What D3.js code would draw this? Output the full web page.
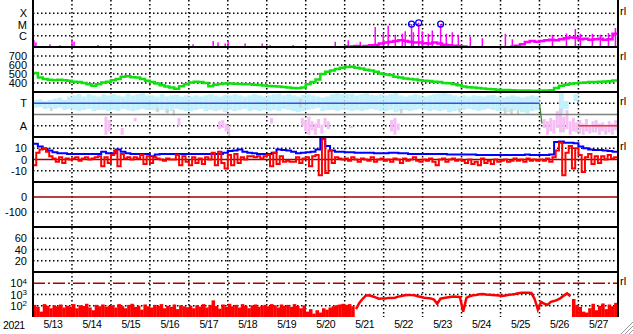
<!DOCTYPE html>
<html>
<head>
<meta charset="utf-8">
<script src="https://cdn.jsdelivr.net/npm/d3@7"></script>
<style>
body { margin: 0; background: #fff; }
svg { display: block; }
</style>
</head>
<body>
<script>
const W = 633, H = 334;
const FONT = "'Liberation Sans', Arial, sans-serif";

const days = ["5/13", "5/14", "5/15", "5/16", "5/17", "5/18", "5/19", "5/20",
    "5/21", "5/22", "5/23", "5/24", "5/25", "5/26", "5/27"];

// x-ray background, 3 hour bins from 5/13 00UT
const xrayBg = [
    6e-8, 6e-8, 6e-8, 6e-8, 6e-8, 6e-8, 6e-8, 6e-8,
    6e-8, 6e-8, 6e-8, 6e-8, 6e-8, 6e-8, 6e-8, 6e-8,
    6e-8, 6e-8, 6e-8, 6e-8, 6e-8, 6e-8, 6e-8, 6e-8,
    6e-8, 6e-8, 6e-8, 6e-8, 6e-8, 6e-8, 6e-8, 6e-8,
    6e-8, 6e-8, 6e-8, 6e-8, 6e-8, 6e-8, 6e-8, 6e-8,
    6e-8, 6e-8, 6e-8, 6e-8, 6e-8, 6e-8, 6e-8, 6e-8,
    6e-8, 6e-8, 6e-8, 6e-8, 6e-8, 6e-8, 6e-8, 6e-8,
    6e-8, 6e-8, 6e-8, 6e-8, 6e-8, 6e-8, 6e-8, 6e-8,
    1.1e-7, 1.1e-7, 1.2e-7, 1.1e-7, 1.2e-7, 1.4e-7, 1.5e-7, 2e-7,
    2.5e-7, 3e-7, 3.5e-7, 4e-7, 3.5e-7, 3e-7, 2.5e-7, 2.5e-7,
    2.2e-7, 2e-7, 2.5e-7, 2e-7, 1.6e-7, 1.4e-7, 1.3e-7, 1.2e-7,
    1.1e-7, 1.05e-7, 9e-8, 9e-8, 8e-8, 9e-8, 8e-8, 9e-8,
    8e-8, 9e-8, 1.1e-7, 1.3e-7, 1.8e-7, 2.8e-7, 3.5e-7, 3e-7,
    3.5e-7, 4e-7, 4.5e-7, 4e-7, 5e-7, 6e-7, 7e-7, 6.5e-7,
    5e-7, 5.5e-7, 4.5e-7, 5e-7, 5.5e-7, 4.5e-7, 5e-7, 1.5e-6
];
// x-ray spikes: [hour, flux]
const xrayPeaks = [
    [0.6, 4e-7], [1.8, 2.5e-7], [10.5, 1.8e-7], [16.6, 1.4e-7], [24, 5e-7], [25.3, 3e-7],
    [40, 1.5e-7], [98.6, 1.8e-7], [111, 3.5e-7], [114, 2.5e-7], [118.4, 2e-7], [120.2, 3.5e-7],
    [130.7, 2e-7], [141.2, 2e-7], [146.1, 1.5e-7], [160.3, 1.5e-7], [186.2, 3e-7], [194.2, 4e-7],
    [201.6, 3e-7], [210.8, 6e-6], [215.8, 1.7e-6], [218.8, 7.8e-6], [223.2, 1.2e-6], [227.5, 1.5e-6],
    [229.3, 2.5e-6], [234.3, 2e-6], [239.8, 2.5e-6], [243.5, 1.5e-6], [246, 3e-6], [254.6, 1.5e-6],
    [258.3, 2e-6], [262, 1.2e-6], [269.4, 8e-7], [276.8, 6e-7], [291, 1.5e-6], [295.3, 5e-7],
    [320, 1.2e-6], [328.6, 1.6e-6], [334.1, 4e-6], [337.2, 1.5e-6], [344.6, 1.5e-6], [349.5, 1.2e-6],
    [354.5, 1.8e-6], [358.8, 5e-6]
];
// M flares: [hour, peak]
const flares = [[233.2, 1.1e-5], [237.6, 1.4e-5], [251.1, 1.1e-5]];

// solar wind speed, 3 hour bins
const speed = [
    510, 460, 445, 435, 430, 435, 430, 425,
    415, 410, 400, 385, 370, 385, 405, 415,
    430, 445, 470, 475, 465, 460, 445, 425,
    410, 395, 375, 360, 350, 335, 365, 385,
    405, 415, 410, 400, 365, 380, 390, 395,
    395, 392, 390, 385, 385, 380, 378, 372,
    368, 365, 360, 355, 350, 345, 342, 350,
    385, 410, 440, 500, 525, 540, 555, 570,
    578, 580, 570, 560, 548, 540, 525, 505,
    495, 488, 470, 460, 450, 445, 440, 430,
    425, 422, 415, 410, 400, 396, 385, 375,
    360, 352, 350, 345, 338, 333, 330, 326,
    322, 322, 320, 318, 318, 316, 315, 315,
    316, 318, 320, 345, 370, 380, 392, 398,
    402, 405, 410, 412, 415, 418, 420, 428
];

// IMF direction (T = +1, A = -1), toward-side band per 3 hour bin
const tHi = [
    1.3, 1.35, 1.2, 1.3, 1.4, 1.5, 1.3, 1.6,
    1.7, 1.8, 1.6, 1.8, 1.7, 1.6, 1.8, 1.7,
    1.8, 1.7, 1.6, 1.85, 1.7, 1.8, 1.9, 1.7,
    1.7, 1.6, 1.8, 1.6, 1.7, 1.75, 1.6, 1.7,
    1.6, 1.7, 1.6, 1.7, 1.8, 1.7, 1.6, 1.75,
    1.7, 1.8, 1.7, 1.6, 1.7, 1.8, 1.7, 1.6,
    1.7, 1.8, 1.85, 1.7, 1.8, 1.7, 1.6, 1.75,
    1.8, 1.7, 1.6, 1.5, 1.6, 1.8, 1.9, 1.8,
    1.8, 1.85, 1.7, 1.8, 1.9, 1.75, 1.7, 1.8,
    1.7, 1.8, 1.9, 1.7, 1.6, 1.7, 1.8, 1.7,
    1.6, 1.7, 1.8, 1.85, 1.9, 1.8, 1.7, 1.6,
    1.7, 1.6, 1.7, 1.65, 1.6, 1.7, 1.75, 1.6,
    1.5, 1.6, 1.7, 1.6, 1.5, 1.6, 1.7, 1.6,
    null, null, null, null, 1.9, 1.2, null, 1.8,
    null, null, null, null, null, null, null, null
];
const tLo = [
    0.6, 0.65, 0.5, 0.55, 0.5, 0.6, 0.4, 0.5,
    0.4, 0.3, 0.4, 0.5, 0.3, 0.4, 0.4, 0.3,
    0.4, 0.3, 0.5, 0.4, 0.3, 0.4, 0.5, 0.4,
    0.4, 0.3, 0.4, 0.2, 0.3, 0.5, 0.4, 0.3,
    0.3, 0.4, 0.5, 0.3, 0.4, 0.3, 0.4, 0.2,
    0.4, 0.3, 0.4, 0.5, 0.3, 0.4, 0.3, 0.4,
    0.3, 0.4, 0.3, 0.5, 0.4, 0.3, 0.2, 0.3,
    0.4, 0.5, 0.6, 0.3, 0.4, 0.4, 0.3, 0.4,
    0.4, 0.3, 0.4, 0.3, 0.4, 0.5, 0.4, 0.3,
    0.3, 0.4, 0.2, 0.3, 0.4, 0.3, 0.4, 0.5,
    0.4, 0.3, 0.4, 0.3, 0.4, 0.2, 0.3, 0.4,
    0.4, 0.5, 0.4, 0.3, 0.4, 0.5, 0.4, 0.3,
    0.3, 0.2, 0.3, 0.4, 0.2, 0.1, 0.3, 0.4,
    null, null, null, null, 0.1, 0.5, null, 1.2,
    null, null, null, null, null, null, null, null
];
// away (pink) and unsure (gray) points: [hour, hi, lo]
const pinkPts = [
    [44, -0.2, -1.8], [46, -0.5, -1.5], [54, -1.2, -1.8], [62, -0.3, -0.6], [89, -0.3, -1.0],
    [114, -0.6, -1.3], [116, -0.5, -1.2], [118, -0.8, -1.5], [119.5, -1.0, -1.6], [146, -0.3, -0.8],
    [165, -0.3, -1.0], [167, -0.5, -1.5], [169, -0.2, -1.8], [171, -0.6, -1.4], [173, -0.8, -1.8],
    [175, -0.4, -1.2], [177, -0.9, -1.7], [179, -0.3, -1.0], [181, -0.6, -1.3], [195, -1.0, -1.2],
    [220, -0.5, -1.5], [222, -0.3, -1.8], [224, -0.8, -1.4],
    [314, -0.4, -1.2], [316, -0.6, -1.8], [318, -0.3, -1.5], [320, -0.5, -1.7], [322, 0.3, -1.2],
    [324, 0.5, -1.6], [326, -0.2, -1.4], [328, 0.4, -1.3], [330, -0.6, -1.8], [332, -0.3, -1.5],
    [334, -0.7, -1.6], [336, -0.5, -1.4], [338, -0.8, -1.8], [340, -0.4, -1.5], [342, -0.9, -1.7],
    [344, -0.6, -1.6], [346, -0.5, -1.3], [348, -0.8, -1.8], [350, -0.7, -1.5], [352, -0.9, -1.7],
    [354, -0.6, -1.6], [356, -0.8, -1.8], [358, -0.5, -1.4]
];
const grayPts = [
    [10.5, 0.6, 0.3], [76, 0.6, 0.2], [82, 0.5, 0.1], [86, 0.4, -0.1], [120, -1.6, -2.0],
    [164, 1.4, 0.6], [226, 0.5, 0.1], [262, 0.5, 0.2], [290, 0.6, 0.0], [294, 0.5, -0.05],
    [298, 0.4, 0.0], [326, -1.3, -1.6], [336, -1.4, -1.7], [346, -1.2, -1.6], [352, -1.5, -1.8]
];
// sector assignment: [start hour, end hour, side]
const sectors = [[0, 312, 1], [336, 360, -1]];
const sectorSwitch = [[312, 1], [313.5, -0.8]];

// |B|, 3 hour bins
const bt = [
    14, 11.5, 9.5, 8, 6.5, 5.5, 5.5, 5,
    5, 5, 5, 5, 5, 5, 7, 5.5,
    5.5, 9, 7, 5.5, 5, 5, 5, 5,
    3, 4.5, 5, 5, 5, 5, 5, 5,
    5, 5, 5, 5, 5, 5, 5, 6,
    7.5, 8, 9, 7, 6, 5.5, 5, 5,
    5, 6, 9, 8.5, 8, 7, 5.5, 6,
    6.5, 7, 9, 19, 12, 8, 7, 7,
    6.5, 6.5, 6, 6, 6, 6, 5.5, 5.5,
    5.5, 6, 6, 5.5, 5.5, 5, 5, 5,
    5, 5, 5, 5, 5, 4.5, 4.5, 4.5,
    4.5, 4.5, 4.5, 4, 4, 4, 4, 4,
    4, 4, 4, 4, 4, 4.5, 4, 4,
    4, 4, 4.5, 15.5, 16, 15, 15, 14.5,
    11.5, 10, 9, 8.5, 8.5, 8, 7.5, 7
];
// Bz, 2 hour bins
const bz = [
    -5, 6, 9, 10, 7, 3, 1, -2, 2, -3, 1, 0,
    1, 2, -1, 1, 2, 0, 1, 2, 3, -6, 2, -3,
    4, 8, -6, 5, 1, 2, 0, 2, 1, 4, -4, 3,
    -3, 2, 1, 0, -1, 1, 0, 0, 4, -5, 3, -2,
    -5, 2, -3, 1, -4, 2, 0, 6, -5, 7, -3, -8,
    4, -5, 5, -3, 2, 0, 3, 3, 2, 3, 1, 3,
    4, -6, 6, -4, 3, -2, -1, -2, -2, 2, -3, 1,
    2, -6, 3, 4, -14, 18, -12, 8, -3, 2, 1, 0,
    1, -1, 2, 0, -2, 1, 0, -1, 2, -2, 0, 1,
    -1, 0, -2, 1, 0, -3, 1, -1, 0, 2, -1, -2,
    0, -1, 1, -2, -5, 0, 1, -2, 0, 1, -1, 0,
    -1, -3, 0, -4, -2, -5, 1, -3, -1, -4, 0, -2,
    -1, 0, -2, -1, 1, -1, 0, -2, 1, -1, 0, -1,
    0, -1, 1, -2, 2, 8, 15, -14, 6, 12, -8, 10,
    4, -11, 2, 5, -4, 3, -3, 3, 0, 4, 1, 2
];

// electron flux, 2 hour bins; filled from 5/13 00UT
const elecFillA = [
    120, 80, 30, 140, 100, 60, 110, 90, 130, 70, 100, 85,
    140, 60, 110, 95, 150, 70, 40, 120, 90, 130, 80, 100,
    110, 70, 140, 90, 60, 120, 150, 80, 100, 45, 130, 90,
    70, 120, 95, 140, 60, 100, 80, 130, 50, 110, 90, 75,
    100, 60, 110, 85, 140, 70, 120, 300, 95, 55, 130, 80,
    150, 90, 120, 70, 140, 100, 60, 110, 130, 80, 100, 120,
    90, 140, 110, 70, 130, 100, 120, 80, 140, 95, 60, 110,
    30, 50, 20, 40, 25, 60, 45, 70, 90, 110, 130, 150,
    120, 140, 90
];
// line from 5/21 06UT
const elecLine = [
    50, 180, 400, 800, 850, 700, 550, 420, 450, 450, 500, 480,
    520, 650, 750, 850, 900, 880, 850, 700, 600, 520, 480, 450,
    350, 150, 420, 480, 550, 600, 650, 620, 580, 30, 500, 700,
    850, 900, 1050, 1100, 1000, 950, 900, 850, 800, 750, 800, 950,
    1000, 1100, 1300, 1400, 1450, 1400, 1350, 400, 45, 220, 150, 120,
    220, 260, 330, 480, 800, 1250, 700
];
// filled again from 5/26 20UT
const elecFillB = [400, 120, 80, 30, 25, 60, 150, 40, 100, 160, 50, 130, 90, 180];

const t0 = Date.UTC(2021, 4, 13);
const hr = h => new Date(t0 + h * 3600e3);
const x = d3.scaleUtc().domain([hr(0), hr(360)]).range([33, 617.4]);

const tops = [2, 47, 92, 137, 182, 227, 272];
const PH = 45;

const yX = d3.scaleLog().domain([1e-7, 1e-3]).range([47, 2]);
const yV = d3.scaleLinear().domain([300, 800]).range([92, 47]);
const yS = d3.scaleLinear().domain([-2, 2]).range([137, 92]);
const yB = d3.scaleLinear().domain([-20, 20]).range([182, 137]);
const yD = d3.scaleLinear().domain([-200, 100]).range([227, 182]);
const yK = d3.scaleLinear().domain([0, 80]).range([272, 227]);
const yE = d3.scaleLog().domain([10, 1e5]).range([317, 272]);

const svg = d3.select("body").append("svg")
    .attr("width", W)
    .attr("height", H)
    .attr("font-family", FONT);

const defs = svg.append("defs");
tops.forEach((t, i) => {
    defs.append("clipPath").attr("id", "clip" + i)
        .append("rect")
        .attr("x", 33).attr("y", t)
        .attr("width", 617.4 - 33).attr("height", PH);
});

function panel(i) {
    return svg.append("g").attr("clip-path", "url(#clip" + i + ")");
}

function hline(g, y, style) {
    return g.append("line")
        .attr("x1", 33).attr("x2", 617.4)
        .attr("y1", y).attr("y2", y)
        .attr("stroke", style.color)
        .attr("stroke-width", style.width)
        .attr("stroke-dasharray", style.dash || null);
}

const dotted = { color: "#000", width: 1.5, dash: "1.5,2.5" };

// day grid
const grid = svg.append("g");
d3.range(1, 15).forEach(k => {
    grid.append("line")
        .attr("x1", x(hr(k * 24))).attr("x2", x(hr(k * 24)))
        .attr("y1", 0).attr("y2", 317)
        .attr("stroke", "#000")
        .attr("stroke-width", 1.5)
        .attr("stroke-dasharray", "1.5,2.5");
});

[1e-4, 1e-5, 1e-6].forEach(v => hline(grid, yX(v), dotted));
[700, 600, 500, 400].forEach(v => hline(grid, yV(v), dotted));
[1, -1].forEach(v => hline(grid, yS(v), dotted));
[10, -10].forEach(v => hline(grid, yB(v), dotted));
[-100].forEach(v => hline(grid, yD(v), dotted));
[60, 40, 20].forEach(v => hline(grid, yK(v), dotted));
[1e3, 1e2].forEach(v => hline(grid, yE(v), dotted));

function stepPts(vals, step) {
    const p = vals.map((v, i) => [i * step, v]);
    p.push([vals.length * step, vals[vals.length - 1]]);
    return p;
}

// x-ray
const p1 = panel(0);
p1.selectAll("line.spike")
    .data(xrayPeaks.concat(flares))
    .enter()
    .append("line")
    .attr("x1", d => x(hr(d[0]))).attr("x2", d => x(hr(d[0])))
    .attr("y1", 47).attr("y2", d => yX(d[1]))
    .attr("stroke", "#ff00ff")
    .attr("stroke-width", 1.5);
p1.append("path")
    .datum(stepPts(xrayBg, 3))
    .attr("fill", "none")
    .attr("stroke", "#ff00ff")
    .attr("stroke-width", 2.5)
    .attr("d", d3.line()
        .defined(d => d[1] >= 1e-7)
        .x(d => x(hr(d[0])))
        .y(d => yX(d[1]))
        .curve(d3.curveStepAfter));
p1.selectAll("circle")
    .data(flares)
    .enter()
    .append("circle")
    .attr("cx", d => x(hr(d[0])))
    .attr("cy", d => yX(d[1]))
    .attr("r", 3)
    .attr("fill", "none")
    .attr("stroke", "#0000ff")
    .attr("stroke-width", 1.3);

// solar wind speed
panel(1).append("path")
    .datum(stepPts(speed, 3))
    .attr("fill", "none")
    .attr("stroke", "#10e010")
    .attr("stroke-width", 2.5)
    .attr("d", d3.line()
        .x(d => x(hr(d[0])))
        .y(d => yV(d[1]))
        .curve(d3.curveStepAfter));

// sector
const p3 = panel(2);
p3.selectAll("rect.band")
    .data(tHi.map((v, i) => [i * 3, v, tLo[i]]).filter(d => d[1] != null))
    .enter()
    .append("rect")
    .attr("x", d => x(hr(d[0])))
    .attr("width", d => x(hr(d[0] + 3)) - x(hr(d[0])))
    .attr("y", d => yS(d[1]))
    .attr("height", d => yS(d[2]) - yS(d[1]))
    .attr("fill", "#c2f0fc");
p3.selectAll("rect.pink")
    .data(pinkPts)
    .enter()
    .append("rect")
    .attr("x", d => x(hr(d[0])))
    .attr("width", 3)
    .attr("y", d => yS(d[1]))
    .attr("height", d => yS(d[2]) - yS(d[1]))
    .attr("fill", "#f7bdf5");
p3.selectAll("rect.gray")
    .data(grayPts)
    .enter()
    .append("rect")
    .attr("x", d => x(hr(d[0])))
    .attr("width", 2.5)
    .attr("y", d => yS(d[1]))
    .attr("height", d => yS(d[2]) - yS(d[1]))
    .attr("fill", "#d2d2d2");
hline(p3, yS(0), { color: "#808080", width: 1.5 });
sectors.forEach(s => {
    p3.append("line")
        .attr("x1", x(hr(s[0]))).attr("x2", x(hr(s[1])))
        .attr("y1", yS(s[2])).attr("y2", yS(s[2]))
        .attr("stroke", s[2] > 0 ? "#3a4ee0" : "#e03a3a")
        .attr("stroke-width", 1.5);
});
p3.append("path")
    .datum(sectorSwitch)
    .attr("fill", "none")
    .attr("stroke", "#2e8b2e")
    .attr("stroke-width", 1.3)
    .attr("d", d3.line().x(d => x(hr(d[0]))).y(d => yS(d[1])));

// IMF
const p4 = panel(3);
hline(p4, yB(0), { color: "#a00000", width: 1.5 });
p4.append("path")
    .datum(stepPts(bt, 3))
    .attr("fill", "none")
    .attr("stroke", "#0000ff")
    .attr("stroke-width", 2)
    .attr("d", d3.line()
        .x(d => x(hr(d[0])))
        .y(d => yB(d[1]))
        .curve(d3.curveStepAfter));
p4.append("path")
    .datum(stepPts(bz, 2))
    .attr("fill", "none")
    .attr("stroke", "#ff0000")
    .attr("stroke-width", 2)
    .attr("d", d3.line()
        .x(d => x(hr(d[0])))
        .y(d => yB(d[1]))
        .curve(d3.curveStepAfter));

// Dst, no data
hline(panel(4), yD(0), { color: "#a00000", width: 1.5 });

// electrons
const p7 = panel(6);
hline(p7, yE(1e4), { color: "#b00000", width: 1.5, dash: "12,3,2,3" });
function fillBars(vals, startHour) {
    p7.append("g").selectAll("rect")
        .data(vals.map((v, i) => [startHour + i * 2, v]))
        .enter()
        .append("rect")
        .attr("x", d => x(hr(d[0])))
        .attr("width", d => x(hr(d[0] + 2)) - x(hr(d[0])) + 0.3)
        .attr("y", d => yE(d[1]))
        .attr("height", d => 317 - yE(d[1]))
        .attr("fill", "#ff0000");
}
fillBars(elecFillA, 0);
fillBars(elecFillB, 332);
p7.append("path")
    .datum(elecLine.map((v, i) => [198 + i * 2 + 1, v]))
    .attr("fill", "none")
    .attr("stroke", "#ff0000")
    .attr("stroke-width", 2.5)
    .attr("d", d3.line()
        .x(d => x(hr(d[0])))
        .y(d => yE(d[1])));

// frame
const frame = svg.append("g").attr("stroke", "#000").attr("stroke-width", 2);
tops.slice(1).forEach(t => {
    frame.append("line").attr("x1", 32).attr("x2", 618.5).attr("y1", t).attr("y2", t);
});
frame.append("line").attr("x1", 33).attr("x2", 33).attr("y1", 0).attr("y2", 317);
frame.append("line").attr("x1", 618).attr("x2", 618).attr("y1", 0).attr("y2", 317);

// labels
function leftLabels(scale, values, fmt) {
    const g = svg.append("g")
        .attr("transform", "translate(33,0)")
        .call(d3.axisLeft(scale).tickValues(values).tickFormat(fmt).tickSize(0).tickPadding(6));
    g.select(".domain").remove();
    g.attr("font-size", 11).attr("font-family", FONT);
    g.selectAll("text").attr("fill", "#000");
    return g;
}
const xmcLabels = ["X", "M", "C"];
leftLabels(yX, [1e-4, 1e-5, 1e-6], (v, i) => xmcLabels[i]);
leftLabels(yV, [700, 600, 500, 400], v => v);
leftLabels(yS, [1, -1], v => v > 0 ? "T" : "A");
leftLabels(yB, [10, 0, -10], v => v);
leftLabels(yD, [0, -100], v => v);
leftLabels(yK, [60, 40, 20], v => v);
leftLabels(yE, [1e4, 1e3, 1e2], () => "10")
    .selectAll("text")
    .append("tspan")
    .attr("dy", "-0.45em")
    .attr("font-size", 8)
    .text(v => Math.round(Math.log10(v)));

const xa = svg.append("g")
    .attr("transform", "translate(0,317)")
    .call(d3.axisBottom(x)
        .tickValues(days.map((s, i) => hr(i * 24 + 12)))
        .tickFormat((s, i) => days[i])
        .tickSize(0)
        .tickPadding(4));
xa.select(".domain").remove();
xa.attr("font-size", 10.5).attr("font-family", FONT);
xa.selectAll("text").attr("fill", "#000").attr("letter-spacing", "-0.4px");

svg.append("text")
    .attr("x", 3).attr("y", 329)
    .attr("font-size", 10.5)
    .attr("letter-spacing", "-0.4px")
    .text("2021");

[0, 1, 2, 3, 6].forEach(i => {
    svg.append("text")
        .attr("x", 620).attr("y", tops[i] + 13)
        .attr("font-size", 11)
        .text("rl");
});

// corner grip
svg.append("g").attr("stroke", "#999").attr("stroke-width", 1)
    .selectAll("line")
    .data([4, 8, 12])
    .enter()
    .append("line")
    .attr("x1", k => W - k).attr("y1", H)
    .attr("x2", W).attr("y2", k => H - k);
</script>
</body>
</html>
